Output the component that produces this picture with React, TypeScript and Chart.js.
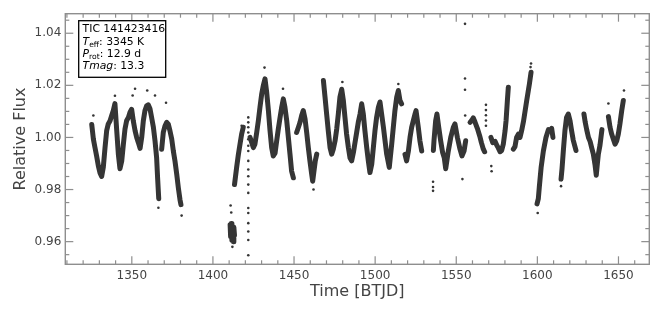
import React, { useEffect, useRef } from "react";
import { Chart, registerables } from "chart.js";
Chart.register(...registerables);

type P = [number, number];

// ---- axis ticks ----
const X_MAJOR_TICKS = [1350, 1400, 1450, 1500, 1550, 1600, 1650];
const X_MINOR_TICKS = [1310, 1320, 1330, 1340, 1360, 1370, 1380, 1390, 1410, 1420, 1430, 1440, 1460, 1470, 1480, 1490, 1510, 1520, 1530, 1540, 1560, 1570, 1580, 1590, 1610, 1620, 1630, 1640, 1660];
const Y_MAJOR_TICKS = [0.96, 0.98, 1.0, 1.02, 1.04];
const Y_MINOR_TICKS = [0.955, 0.965, 0.97, 0.975, 0.985, 0.99, 0.995, 1.005, 1.01, 1.015, 1.025, 1.03, 1.035, 1.045];
const X_RANGE = [1309, 1669];
const Y_RANGE = [0.9513, 1.0475];

// ---- light curve segments (time BTJD, relative flux) ----
const seg1325: P[] = [[1325.3, 1.005], [1326.3, 0.9994], [1327.3, 0.9961], [1328.3, 0.9929], [1329.4, 0.989], [1330.4, 0.9864], [1331.4, 0.985], [1332.4, 0.9884], [1333.5, 0.9961], [1334.5, 1.0026], [1335.5, 1.0052], [1336.6, 1.0064], [1337.6, 1.0084], [1338.6, 1.0103], [1339.6, 1.013], [1340.7, 1.0026], [1341.7, 0.9936], [1342.7, 0.988], [1343.8, 0.991], [1344.8, 0.9974], [1345.8, 1.0032], [1346.8, 1.0064], [1347.9, 1.0077], [1348.9, 1.0097], [1349.9, 1.0108], [1350.9, 1.0064], [1352.0, 1.0026], [1353.0, 1.0], [1354.0, 0.9981], [1355.1, 0.9958], [1356.1, 1.0], [1357.1, 1.0064], [1358.1, 1.0103], [1359.2, 1.0122], [1360.2, 1.0125], [1361.2, 1.011], [1362.2, 1.0077], [1363.3, 1.0039], [1364.3, 0.9987], [1365.3, 0.9922], [1365.9, 0.9845], [1366.6, 0.9765]];
const seg1368: P[] = [[1368.4, 0.9955], [1369.4, 1.0019], [1370.5, 1.0045], [1371.5, 1.0058], [1372.5, 1.0051], [1373.5, 1.0026], [1374.6, 0.9994], [1375.6, 0.9948], [1376.6, 0.991], [1377.7, 0.9858], [1378.7, 0.9806], [1379.7, 0.9761], [1380.3, 0.9742]];
const seg1411: P[] = [[1410.6, 0.9665], [1410.9, 0.962], [1411.3, 0.967], [1411.7, 0.9605], [1412.1, 0.966], [1412.5, 0.96], [1412.9, 0.9655], [1413.3, 0.9625]];
const seg1413: P[] = [[1413.3, 0.9819], [1414.6, 0.9884], [1415.7, 0.9935], [1416.7, 0.9974], [1417.7, 1.0013], [1418.7, 1.0039]];
const seg1423: P[] = [[1422.9, 1.0], [1424.9, 0.9961], [1425.9, 0.9974], [1427.0, 1.0019], [1428.0, 1.0064], [1429.0, 1.0116], [1430.1, 1.0168], [1431.1, 1.02], [1432.1, 1.0225], [1433.1, 1.0175], [1434.2, 1.0103], [1435.2, 1.0026], [1436.2, 0.9961], [1437.2, 0.9929], [1438.3, 0.994], [1439.3, 0.9987], [1440.3, 1.0032], [1441.4, 1.0077], [1442.4, 1.0116], [1443.4, 1.0148], [1444.4, 1.0116], [1445.5, 1.0064], [1446.5, 1.0], [1447.5, 0.9936], [1448.5, 0.9871], [1449.6, 0.9845]];
const seg1452: P[] = [[1451.6, 1.0019], [1452.7, 1.0039], [1453.7, 1.0058], [1454.7, 1.0084], [1455.7, 1.0103], [1456.8, 1.0071], [1457.8, 1.0019], [1458.8, 0.9961], [1459.8, 0.991], [1460.9, 0.9858], [1461.5, 0.9832], [1462.3, 0.9871], [1463.1, 0.991], [1464.0, 0.9936]];
const seg1468: P[] = [[1468.1, 1.0219], [1469.1, 1.0155], [1470.1, 1.009], [1471.1, 1.0026], [1472.2, 0.9961], [1473.2, 0.9936], [1474.2, 0.9955], [1475.3, 0.9987], [1476.3, 1.0032], [1477.3, 1.009], [1478.3, 1.0155], [1479.4, 1.0185], [1480.4, 1.0142], [1481.4, 1.0077], [1482.4, 1.0013], [1483.5, 0.9961], [1484.5, 0.9922], [1485.5, 0.991], [1486.6, 0.9942], [1487.6, 0.9981], [1488.6, 1.0019], [1489.6, 1.0058], [1490.7, 1.009], [1491.7, 1.0129], [1492.7, 1.009], [1493.7, 1.0026], [1494.8, 0.9961], [1495.8, 0.991], [1496.8, 0.9865], [1497.9, 0.9897], [1498.9, 0.9961], [1499.9, 1.0026], [1500.9, 1.0077], [1502.0, 1.0116], [1503.0, 1.0136], [1504.0, 1.009], [1505.1, 1.0039], [1506.1, 0.9987], [1507.1, 0.9936], [1508.7, 0.9885], [1510.2, 0.9974], [1511.2, 1.0039], [1512.2, 1.0103], [1513.3, 1.0155], [1514.3, 1.018], [1515.3, 1.0142], [1516.3, 1.0129]];
const seg1518: P[] = [[1518.4, 0.9935], [1519.4, 0.991], [1520.5, 0.9948], [1521.5, 1.0], [1522.5, 1.0039], [1523.5, 1.0064], [1524.6, 1.009], [1525.2, 1.0103], [1526.6, 1.0039], [1527.6, 0.9987], [1528.7, 0.9948]];
const seg1536: P[] = [[1535.9, 0.995], [1536.3, 0.999], [1537.3, 1.0064], [1538.1, 1.009], [1539.2, 1.0039], [1540.4, 0.9987], [1541.6, 0.9942], [1542.6, 0.9922], [1543.5, 0.988], [1545.1, 0.9948], [1546.6, 1.0], [1548.2, 1.0039], [1549.2, 1.0052], [1550.7, 1.0], [1552.3, 0.9955], [1553.5, 0.9929], [1554.8, 0.9948], [1555.8, 0.9987]];
const seg1558: P[] = [[1558.5, 1.0058], [1559.5, 1.0065], [1560.5, 1.0075], [1561.5, 1.006], [1563.0, 1.0035], [1564.5, 1.0005], [1565.5, 0.998], [1566.7, 0.9955], [1567.5, 0.9945]];
const seg1571: P[] = [[1571.4, 1.0], [1572.5, 0.998], [1573.9, 0.9985], [1575.0, 0.997], [1575.9, 0.996], [1577.0, 0.9945], [1578.0, 0.995], [1579.0, 0.9974], [1580.1, 1.0026], [1580.7, 1.0064], [1581.5, 1.014], [1582.1, 1.0193]];
const seg1585: P[] = [[1585.2, 0.9955], [1586.2, 0.9965], [1587.2, 1.0], [1588.3, 1.0013], [1589.3, 1.0], [1590.3, 1.0026], [1591.4, 1.006], [1592.4, 1.01], [1593.4, 1.014], [1594.3, 1.0175], [1595.1, 1.0206], [1596.1, 1.025]];
const seg1600: P[] = [[1599.8, 0.9745], [1600.6, 0.9765], [1601.2, 0.981], [1602.3, 0.9884], [1603.7, 0.9948], [1605.3, 1.0], [1606.8, 1.003], [1607.8, 1.0026], [1608.8, 1.0035], [1609.6, 1.0]];
const seg1615: P[] = [[1614.6, 0.984], [1615.2, 0.988], [1616.0, 0.9948], [1617.0, 1.0026], [1618.0, 1.0077], [1619.1, 1.009], [1620.1, 1.0065], [1621.1, 1.0026], [1622.1, 0.999], [1623.8, 0.995]];
const seg1629: P[] = [[1628.7, 1.009], [1629.5, 1.0058], [1630.4, 1.003], [1631.5, 1.0], [1632.5, 0.9985], [1633.5, 0.996], [1634.5, 0.9936], [1635.5, 0.9897], [1636.3, 0.9855], [1637.0, 0.99], [1637.6, 0.9936], [1638.6, 0.997], [1639.8, 1.003]];
const seg1644: P[] = [[1643.8, 1.008], [1644.8, 1.0039], [1645.8, 1.0013], [1646.8, 0.9994], [1647.9, 0.9974], [1648.9, 0.9987], [1649.9, 1.0013], [1650.9, 1.0052], [1652.0, 1.0103], [1653.0, 1.0142]];

const SEGMENTS: P[][] = [seg1325, seg1368, seg1411, seg1413, seg1423, seg1452, seg1468, seg1518, seg1536, seg1558, seg1571, seg1585, seg1600, seg1615, seg1629, seg1644];

// isolated points
const OUTLIERS: P[] = [
  [1326.3, 1.0084], [1339.6, 1.016], [1350.5, 1.0161], [1352.0, 1.0187], [1359.5, 1.018], [1364.3, 1.0161], [1371.1, 1.0133], [1366.4, 0.973], [1380.7, 0.97],
  [1410.9, 0.9739], [1411.3, 0.9712], [1412.0, 0.958],
  [1421.8, 1.0077], [1421.8, 1.0058], [1421.8, 1.0039], [1421.8, 1.0019], [1421.8, 0.9993], [1421.8, 0.9968], [1421.8, 0.9948], [1421.8, 0.991], [1421.8, 0.9877], [1421.8, 0.9851], [1421.8, 0.9819], [1421.8, 0.9787], [1421.8, 0.9729], [1421.8, 0.971], [1421.8, 0.9671], [1421.8, 0.9639], [1421.8, 0.9606], [1421.8, 0.9548],
  [1417.7, 1.0045], [1431.8, 1.0268], [1443.2, 1.0187], [1462.0, 0.98], [1479.8, 1.0213], [1514.3, 1.0205],
  [1535.7, 0.983], [1535.7, 0.981], [1535.7, 0.9795], [1553.8, 0.984],
  [1555.4, 1.0436], [1555.4, 1.0226], [1555.4, 1.0183], [1555.5, 1.0084],
  [1568.3, 1.0045], [1568.3, 1.0065], [1568.3, 1.0085], [1568.3, 1.0105], [1568.3, 1.0125],
  [1571.8, 0.987], [1571.6, 0.989], [1596.1, 1.0284], [1595.8, 1.027], [1600.2, 0.971], [1614.6, 0.9813], [1653.4, 1.018], [1643.8, 1.013],
];

// annotation text
const TARGET_NAME = "TIC 141423416";
const TEFF_TEXT = ": 3345 K";
const PROT_TEXT = ": 12.9 d";
const TMAG_TEXT = ": 13.3";

const FONT = "DejaVu Sans";
const INK = "#353535";

const framePlugin = {
  id: "frame",
  afterDraw(chart: any) {
    const { ctx, chartArea, scales } = chart;
    const { left, right, top, bottom } = chartArea;
    const xs = scales.x;
    const ys = scales.y;
    ctx.save();
    ctx.strokeStyle = "#8e8e8e";
    ctx.lineWidth = 1.2;
    const seg = (x1: number, y1: number, x2: number, y2: number) => {
      ctx.beginPath();
      ctx.moveTo(x1, y1);
      ctx.lineTo(x2, y2);
      ctx.stroke();
    };
    const xt = (v: number, len: number) => {
      const p = xs.getPixelForValue(v);
      seg(p, bottom, p, bottom - len);
      seg(p, top, p, top + len);
    };
    const yt = (v: number, len: number) => {
      const p = ys.getPixelForValue(v);
      seg(left, p, left + len, p);
      seg(right, p, right - len, p);
    };
    X_MAJOR_TICKS.forEach((v) => xt(v, 8));
    X_MINOR_TICKS.forEach((v) => xt(v, 4));
    Y_MAJOR_TICKS.forEach((v) => yt(v, 8));
    Y_MINOR_TICKS.forEach((v) => yt(v, 4));
    ctx.lineWidth = 1.4;
    ctx.strokeRect(left, top, right - left, bottom - top);

    // info box
    const bx = 78.7, by = 20.7, bw = 87, bh = 56.6;
    ctx.fillStyle = "#ffffff";
    ctx.fillRect(bx, by, bw, bh);
    ctx.strokeStyle = "#000000";
    ctx.lineWidth = 1.3;
    ctx.strokeRect(bx, by, bw, bh);
    ctx.fillStyle = "#000000";
    ctx.textBaseline = "alphabetic";
    ctx.textAlign = "left";
    const runs = (x: number, y: number, parts: { t: string; f: string; dy?: number }[]) => {
      let cx = x;
      for (const r of parts) {
        ctx.font = r.f;
        ctx.fillText(r.t, cx, y + (r.dy || 0));
        cx += ctx.measureText(r.t).width;
      }
    };
    const reg = `10.8px "${FONT}"`;
    const ital = `italic 10.8px "${FONT}"`;
    const sub = `7.6px "${FONT}"`;
    const tx = 82.6;
    runs(tx, 32.2, [{ t: TARGET_NAME, f: reg }]);
    runs(tx, 44.6, [{ t: "T", f: ital }, { t: "eff", f: sub, dy: 2 }, { t: TEFF_TEXT, f: reg }]);
    runs(tx, 57.0, [{ t: "P", f: ital }, { t: "rot", f: sub, dy: 2 }, { t: PROT_TEXT, f: reg }]);
    runs(tx, 69.3, [{ t: "Tmag", f: ital }, { t: TMAG_TEXT, f: reg }]);
    ctx.restore();
  },
};

export default function App() {
  const ref = useRef<HTMLCanvasElement | null>(null);
  useEffect(() => {
    if (!ref.current) return;
    const datasets: any[] = SEGMENTS.map((s) => ({
      data: s.map(([x, y]) => ({ x, y })),
      showLine: true,
      borderColor: INK,
      backgroundColor: INK,
      borderWidth: 5,
      borderJoinStyle: "round",
      borderCapStyle: "round",
      pointRadius: 0,
      tension: 0,
    }));
    datasets.push({
      data: OUTLIERS.map(([x, y]) => ({ x, y })),
      showLine: false,
      pointRadius: 1.3,
      pointBorderWidth: 0,
      backgroundColor: INK,
      borderColor: INK,
    });
    const chart = new Chart(ref.current, {
      type: "scatter",
      data: { datasets },
      plugins: [framePlugin],
      options: {
        animation: false,
        responsive: false,
        devicePixelRatio: 1,
        events: [],
        layout: { padding: { top: 13.7, right: 14.7, left: 0, bottom: 0 } },
        plugins: { legend: { display: false }, tooltip: { enabled: false } },
        scales: {
          x: {
            type: "linear",
            min: X_RANGE[0],
            max: X_RANGE[1],
            afterBuildTicks: (s: any) => {
              s.ticks = X_MAJOR_TICKS.map((v) => ({ value: v }));
            },
            afterFit: (s: any) => {
              s.height = 48.7;
            },
            ticks: {
              callback: (v: any) => String(v),
              font: { family: FONT, size: 12 },
              color: "#444444",
              padding: 4,
              maxRotation: 0,
              autoSkip: false,
            },
            grid: { display: false, drawTicks: false },
            border: { display: false },
            title: {
              display: true,
              text: "Time [BTJD]",
              font: { family: FONT, size: 16 },
              color: "#444444",
              padding: { top: 0, bottom: 11.5 },
            },
          },
          y: {
            type: "linear",
            min: Y_RANGE[0],
            max: Y_RANGE[1],
            afterBuildTicks: (s: any) => {
              s.ticks = Y_MAJOR_TICKS.map((v) => ({ value: v }));
            },
            afterFit: (s: any) => {
              s.width = 65.3;
            },
            ticks: {
              callback: (v: any) => Number(v).toFixed(2),
              font: { family: FONT, size: 12 },
              color: "#444444",
              padding: 4,
              autoSkip: false,
            },
            grid: { display: false, drawTicks: false },
            border: { display: false },
            title: {
              display: true,
              text: "Relative Flux",
              font: { family: FONT, size: 16 },
              color: "#444444",
              padding: { top: 11.5, bottom: 0 },
            },
          },
        },
      } as any,
    });
    return () => chart.destroy();
  }, []);
  return (
    <div style={{ position: "fixed", left: 0, top: 0, width: 664, height: 313, background: "#fff" }}>
      <canvas ref={ref} width={664} height={313} style={{ display: "block" }} />
    </div>
  );
}
